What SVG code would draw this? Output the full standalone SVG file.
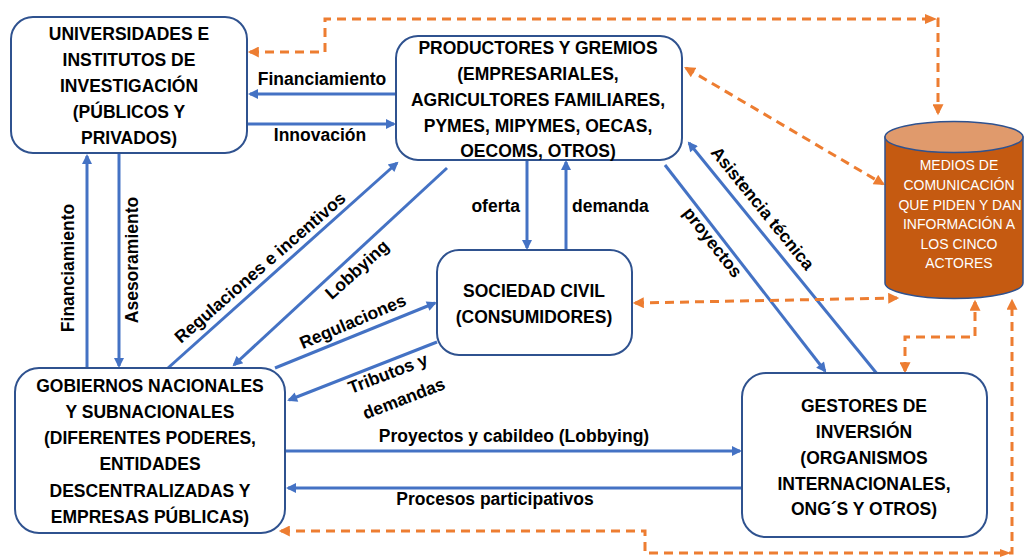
<svg xmlns="http://www.w3.org/2000/svg" width="1024" height="557" viewBox="0 0 1024 557">
<defs>
<style>
.box{fill:#fff;stroke:#2F528F;stroke-width:2}
.t{font-family:"Liberation Sans",Arial,sans-serif;font-weight:bold;font-size:17.5px;fill:#000;text-anchor:middle}
.l{font-family:"Liberation Sans",Arial,sans-serif;font-weight:bold;font-size:17.5px;fill:#000;text-anchor:middle}
.w{font-family:"Liberation Sans",Arial,sans-serif;font-size:14px;fill:#fff;text-anchor:middle}
.b{fill:none;stroke:#4472C4;stroke-width:3;marker-end:url(#ab)}
.o{fill:none;stroke:#ED7D31;stroke-width:3;stroke-dasharray:9 6;marker-start:url(#ao);marker-end:url(#ao)}
</style>
<marker id="ab" viewBox="0 0 10 10" refX="8" refY="5" markerWidth="12" markerHeight="10" markerUnits="userSpaceOnUse" orient="auto-start-reverse"><path d="M0,0 L10,5 L0,10 z" fill="#4472C4"/></marker>
<marker id="ao" viewBox="0 0 10 10" refX="8" refY="5" markerWidth="12" markerHeight="11" markerUnits="userSpaceOnUse" orient="auto-start-reverse"><path d="M0,0 L10,5 L0,10 z" fill="#ED7D31"/></marker>
</defs>
<rect width="1024" height="557" fill="#fff"/>

<g id="connectors">
<path class="b" d="M396,94 H250"/>
<path class="b" d="M247,124 H394"/>
<path class="b" d="M87,368 V156"/>
<path class="b" d="M119,153 V366"/>
<path class="b" d="M168,368 L397,163"/>
<path class="b" d="M447,168 L234,365"/>
<path class="b" d="M275,368 L435,303"/>
<path class="b" d="M437,342 L289,400"/>
<path class="b" d="M285,451 H740"/>
<path class="b" d="M742,488 H288"/>
<path class="b" d="M527,160 V248"/>
<path class="b" d="M566,250 V162"/>
<path class="b" d="M665,165 L825,371"/>
<path class="b" d="M878,375 L689,143"/>

<path class="o" d="M250,52 H325 V19 H938 V113"/>
<polygon points="925,14 937,19 925,24" fill="#ED7D31"/>
<path class="o" d="M686,68 L883,184"/>
<path class="o" d="M635,303 L897,298"/>
<path class="o" d="M905,371 V337 H975 V302"/>
<path class="o" d="M281,531 H645 V553 H1012 V301"/>
<polygon points="1000,549 1011,553 1000,557" fill="#ED7D31"/>

<text class="l" x="322" y="85">Financiamiento</text>
<text class="l" x="320" y="141">Innovación</text>
<text class="l" transform="translate(74,268) rotate(-90)">Financiamiento</text>
<text class="l" transform="translate(138,260) rotate(-90)">Asesoramiento</text>
<text class="l" transform="translate(264,272) rotate(-41)">Regulaciones e incentivos</text>
<text class="l" transform="translate(361,274) rotate(-42)">Lobbying</text>
<text class="l" transform="translate(355,327) rotate(-23)">Regulaciones</text>
<text class="l" transform="translate(390,379) rotate(-21)">Tributos y</text>
<text class="l" transform="translate(406,404) rotate(-21)">demandas</text>
<text class="l" x="514" y="442">Proyectos y cabildeo (Lobbying)</text>
<text class="l" x="495" y="505">Procesos participativos</text>
<text class="l" x="520" y="212" style="text-anchor:end">oferta</text>
<text class="l" x="572" y="212" style="text-anchor:start">demanda</text>
<text class="l" transform="translate(708,246) rotate(52)">proyectos</text>
<text class="l" transform="translate(758,212) rotate(51)">Asistencia técnica</text>
</g>

<g id="universidades">
<rect class="box" x="11" y="17" width="236" height="136" rx="22"/>
<text class="t" x="129" y="40">UNIVERSIDADES E</text>
<text class="t" x="129" y="66">INSTITUTOS DE</text>
<text class="t" x="129" y="92">INVESTIGACIÓN</text>
<text class="t" x="129" y="118">(PÚBLICOS Y</text>
<text class="t" x="129" y="144">PRIVADOS)</text>
</g>

<g id="productores">
<rect class="box" x="396" y="36" width="286" height="124" rx="22"/>
<text class="t" x="538" y="54">PRODUCTORES Y GREMIOS</text>
<text class="t" x="538" y="80">(EMPRESARIALES,</text>
<text class="t" x="538" y="106">AGRICULTORES FAMILIARES,</text>
<text class="t" x="538" y="132">PYMES, MIPYMES, OECAS,</text>
<text class="t" x="538" y="157">OECOMS, OTROS)</text>
</g>

<g id="sociedad">
<rect class="box" x="437" y="250" width="195" height="105" rx="22"/>
<text class="t" x="534" y="297">SOCIEDAD CIVIL</text>
<text class="t" x="534" y="323">(CONSUMIDORES)</text>
</g>

<g id="gobiernos">
<rect class="box" x="15" y="368" width="270" height="165" rx="24"/>
<text class="t" x="150" y="392">GOBIERNOS NACIONALES</text>
<text class="t" x="150" y="418">Y SUBNACIONALES</text>
<text class="t" x="150" y="444">(DIFERENTES PODERES,</text>
<text class="t" x="150" y="470">ENTIDADES</text>
<text class="t" x="150" y="497">DESCENTRALIZADAS Y</text>
<text class="t" x="150" y="523">EMPRESAS PÚBLICAS)</text>
</g>

<g id="gestores">
<rect class="box" x="742" y="373" width="245" height="164" rx="24"/>
<text class="t" x="864" y="412">GESTORES DE</text>
<text class="t" x="864" y="438">INVERSIÓN</text>
<text class="t" x="864" y="464">(ORGANISMOS</text>
<text class="t" x="864" y="490">INTERNACIONALES,</text>
<text class="t" x="864" y="515">ONG´S Y OTROS)</text>
</g>

<g id="medios">
<path d="M885,137 V283 A69,15.5 0 0 0 1023,283 V137 Z" fill="#C55A11" stroke="#2F528F" stroke-width="1.5"/>
<ellipse cx="954" cy="137" rx="69" ry="15.5" fill="#E09A6C" stroke="#2F528F" stroke-width="1.5"/>
<text class="w" x="959" y="170">MEDIOS DE</text>
<text class="w" x="959" y="190">COMUNICACIÓN</text>
<text class="w" x="960" y="210">QUE PIDEN Y DAN</text>
<text class="w" x="959" y="229">INFORMACIÓN A</text>
<text class="w" x="959" y="249">LOS CINCO</text>
<text class="w" x="959" y="268">ACTORES</text>
</g>
</svg>
